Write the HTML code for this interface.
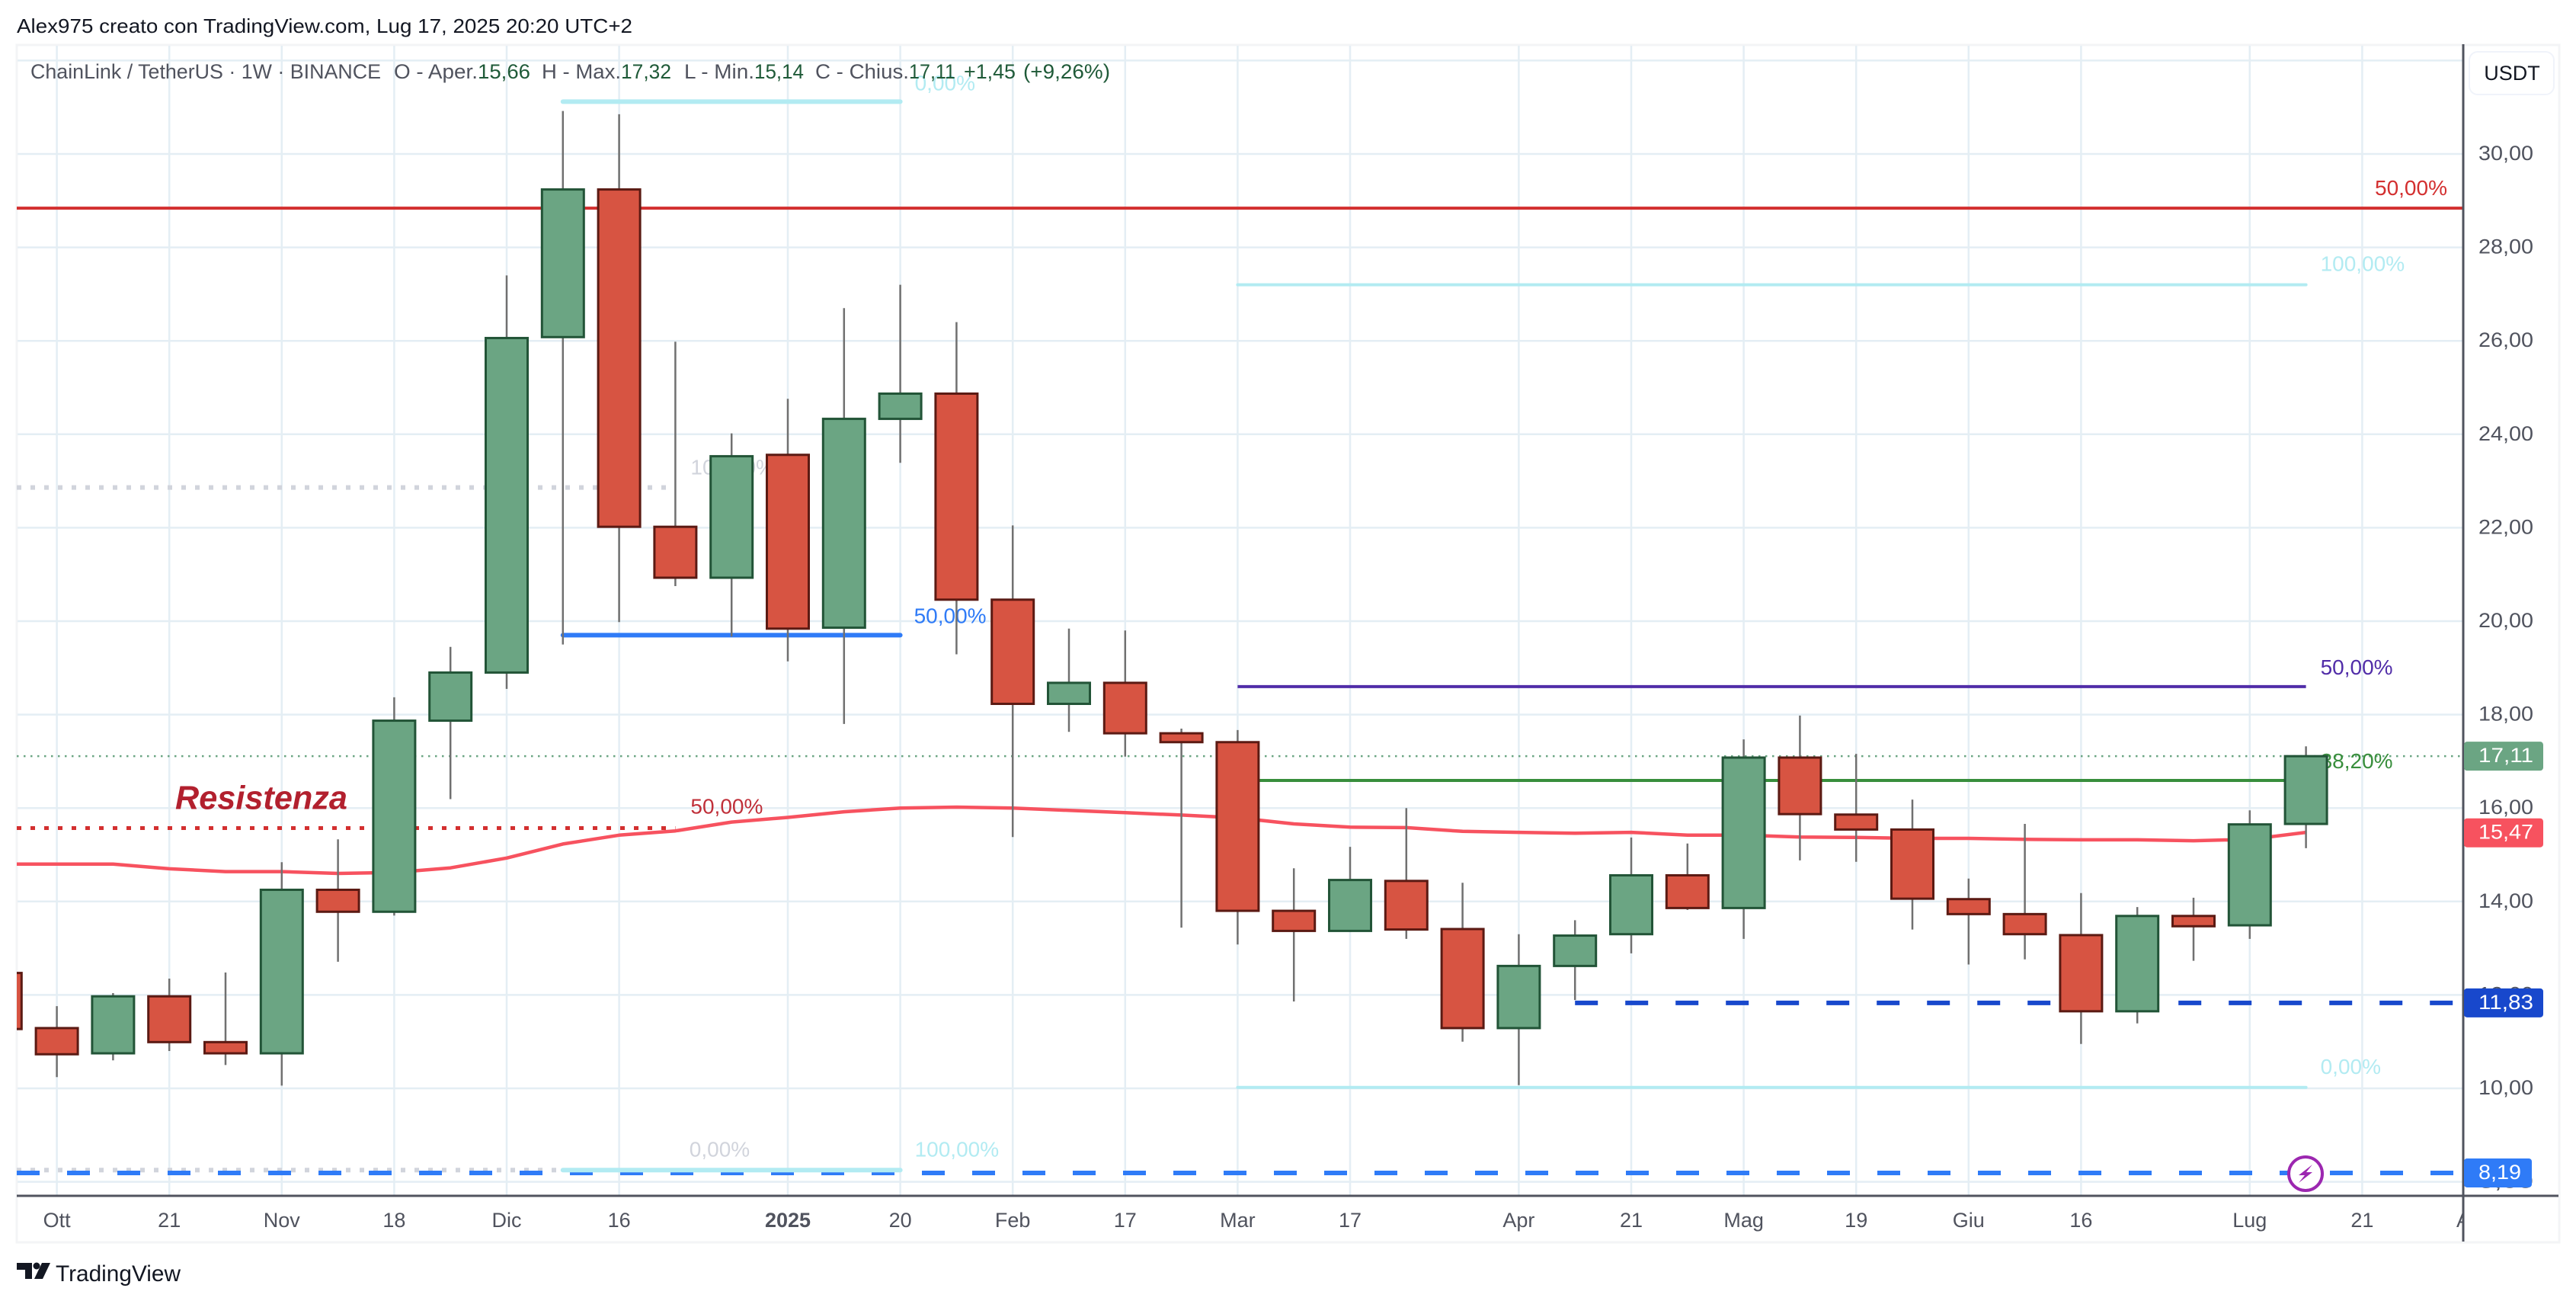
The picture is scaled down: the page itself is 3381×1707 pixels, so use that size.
<!DOCTYPE html>
<html lang="it">
<head>
<meta charset="utf-8">
<title>ChainLink / TetherUS 1W</title>
<style>
html,body{margin:0;padding:0;background:#fff;width:3381px;height:1707px;overflow:hidden}
svg{display:block;font-family:"Liberation Sans",sans-serif}
</style>
</head>
<body>
<svg id="chart" xmlns="http://www.w3.org/2000/svg" width="3381" height="1707" viewBox="0 0 3381 1707">
  <defs>
    <clipPath id="plot-clip"><rect x="22" y="58" width="3211" height="1511"></rect></clipPath>
    <clipPath id="time-clip"><rect x="22" y="1571" width="3211" height="58"></rect></clipPath>
  </defs>
  <rect x="0" y="0" width="3381" height="1707" fill="#ffffff"></rect>
  <text x="22" y="43" font-size="26" fill="#131722" textLength="808" lengthAdjust="spacingAndGlyphs">Alex975 creato con TradingView.com, Lug 17, 2025 20:20 UTC+2</text>
  <rect x="22" y="59" width="3337" height="1571" fill="none" stroke="#f3f4f6" stroke-width="3"></rect>
  <g id="grid-layer"></g>
  <g id="plot-layer" clip-path="url(#plot-clip)"></g>
  <g font-size="27" fill="#50535e">
    <text x="40" y="103" textLength="460" lengthAdjust="spacingAndGlyphs">ChainLink / TetherUS · 1W · BINANCE</text>
    <text x="517" y="103" textLength="110" lengthAdjust="spacingAndGlyphs">O - Aper.</text>
    <text x="627" y="103" fill="#1f5a38" textLength="69" lengthAdjust="spacingAndGlyphs">15,66</text>
    <text x="711" y="103" textLength="104" lengthAdjust="spacingAndGlyphs">H - Max.</text>
    <text x="815" y="103" fill="#1f5a38" textLength="66" lengthAdjust="spacingAndGlyphs">17,32</text>
    <text x="898" y="103" textLength="92" lengthAdjust="spacingAndGlyphs">L - Min.</text>
    <text x="990" y="103" fill="#1f5a38" textLength="65" lengthAdjust="spacingAndGlyphs">15,14</text>
    <text x="1070" y="103" textLength="123" lengthAdjust="spacingAndGlyphs">C - Chius.</text>
    <text x="1193" y="103" fill="#1f5a38" textLength="61" lengthAdjust="spacingAndGlyphs">17,11</text>
    <text x="1265" y="103" fill="#1f5a38" textLength="68" lengthAdjust="spacingAndGlyphs">+1,45</text>
    <text x="1343" y="103" fill="#1f5a38" textLength="114" lengthAdjust="spacingAndGlyphs">(+9,26%)</text>
  </g>
  <g id="time-layer"></g>
  <g id="price-layer"></g>
  <line x1="22" y1="1569" x2="3358" y2="1569" stroke="#50535e" stroke-width="3"></line>
  <line x1="3233" y1="58" x2="3233" y2="1629" stroke="#50535e" stroke-width="3"></line>
  <g id="tag-layer"></g>
  <g>
    <rect x="3241" y="68" width="111" height="56" rx="11" fill="#ffffff" stroke="#f0f3fa" stroke-width="2"></rect>
    <text x="3297" y="105" font-size="27" fill="#131722" text-anchor="middle">USDT</text>
  </g>
  <g>
    <circle cx="3026" cy="1540" r="22" fill="#ffffff" stroke="#9c27b0" stroke-width="4"></circle>
    <polygon points="3035,1528 3017,1542 3025,1542 3017,1552 3035,1538 3027,1538" fill="#9c27b0"></polygon>
  </g>
  <g>
    <polygon points="22,1657 42,1657 42,1678 33,1678 33,1666 22,1666" fill="#131722"></polygon>
    <circle cx="48" cy="1661" r="4.5" fill="#131722"></circle>
    <polygon points="55,1657 66,1657 56,1678 45,1678" fill="#131722"></polygon>
    <text x="73" y="1681" font-size="30" fill="#131722" textLength="164" lengthAdjust="spacingAndGlyphs">TradingView</text>
  </g>
</svg>
<script>
// ---- chart data (one entry per weekly candle, starting one week before "Ott") ----
const firstIndex = -1;
const opens  = [12.47,11.29,10.75,11.97,10.99,10.75,14.25,13.78,17.87,18.90,26.08,29.24,22.02,20.93,23.56,19.86,24.33,24.87,20.46,18.23,18.68,17.60,17.41,13.80,13.37,14.44,13.41,11.29,12.62,13.30,14.56,13.86,17.08,15.86,15.54,14.05,13.73,13.28,11.65,13.69,13.49,15.66];
const highs  = [12.90,11.76,12.04,12.35,12.48,14.84,15.33,18.37,19.45,27.40,30.92,30.85,25.98,24.02,24.76,26.70,27.20,26.40,22.05,19.84,19.80,17.70,17.67,14.71,15.17,16.00,14.40,13.30,13.60,15.37,15.24,17.47,17.98,17.16,16.18,14.49,15.66,14.18,13.88,14.08,15.95,17.32];
const lows   = [10.90,10.24,10.60,10.80,10.50,10.06,12.71,13.70,16.19,18.55,19.50,19.98,20.75,19.67,19.14,17.80,23.39,19.29,15.38,17.63,17.10,13.44,13.08,11.86,13.35,13.20,11.00,10.07,11.89,12.89,13.82,13.20,14.88,14.85,13.40,12.65,12.76,10.95,11.39,12.73,13.20,15.14];
const closes = [11.27,10.73,11.97,10.99,10.75,14.25,13.78,17.87,18.90,26.06,29.24,22.02,20.93,23.53,19.84,24.33,24.87,20.46,18.23,18.68,17.60,17.41,13.80,13.37,14.46,13.40,11.29,12.62,13.27,14.56,13.86,17.08,15.87,15.54,14.06,13.73,13.30,11.65,13.69,13.47,15.65,17.11];
const maValues = [14.80,14.80,14.80,14.70,14.64,14.64,14.60,14.62,14.72,14.93,15.23,15.42,15.51,15.70,15.80,15.92,16.00,16.02,16.00,15.95,15.90,15.85,15.79,15.66,15.59,15.58,15.50,15.48,15.46,15.48,15.42,15.42,15.38,15.37,15.35,15.35,15.33,15.32,15.32,15.30,15.33,15.48];

const priceTicks = [30,28,26,24,22,20,18,16,14,12,10,8];
const gridPrices = [32,30,28,26,24,22,20,18,16,14,12,10,8];
const timeTickIndex = [0,2,4,6,8,10,13,15,17,19,21,23,26,28,30,32,34,36,39,41,43];
const timeTickLabels = ["Ott","21","Nov","18","Dic","16","2025","20","Feb","17","Mar","17","Apr","21","Mag","19","Giu","16","Lug","21","Ago"];

const levelNames  = ["last-price-line","gray-dotted-upper","gray-dotted-lower","blue-dashed-level","navy-dashed-level","resistance-dotted","red-fib-50","cyan-fib-top","cyan-fib-bottom","blue-fib-50","cyan-range-100","cyan-range-0","purple-fib-50","green-fib-38"];
const levelPrices = [17.11,22.86,8.25,8.19,11.83,15.57,28.84,31.12,8.25,19.70,27.20,10.02,18.60,16.59];
const levelStart  = [-0.7127,-0.7127,-0.7127,-0.7127,27,-0.7127,-1.3,9,9,9,21,21,21,21];
const levelEnd    = [43,11,9,43,43,11,43,15,15,15,40,40,40,40];
const levelTexts  = ["","100,00%","0,00%","","","50,00%","50,00%","0,00%","100,00%","50,00%","100,00%","0,00%","50,00%","38,20%"];

const tagPrices = [17.11,15.47,11.83,8.19];
const tagNames  = ["last-price-tag","ma-price-tag","navy-level-tag","blue-level-tag"];

// ---- styles, separate from the data ----
const levelStyle = {
  "blue-dashed-level":{c:"#2f7bf7",w:6,d:"30 36"},
  "navy-dashed-level":{c:"#1848cc",w:6,d:"30 36"},
  "last-price-line":{c:"#6ba583",w:2.5,d:"2.5 6.5"},
  "gray-dotted-upper":{c:"#d1d4dc",w:6,d:"6 12",tc:"#d1d4dc",dx:20,dy:-17},
  "gray-dotted-lower":{c:"#d1d4dc",w:6,d:"6 12",tc:"#d1d4dc",dx:166,dy:-18},
  "resistance-dotted":{c:"#d32f2f",w:5,d:"6 12",tc:"#c0303a",dx:20,dy:-19},
  "red-fib-50":{c:"#d32f2f",w:4,tc:"#d32f2f",dx:-131,dy:-17},
  "cyan-fib-top":{c:"#b2ebf2",w:6,cap:"round",tc:"#b2ebf2",dx:19,dy:-15},
  "cyan-fib-bottom":{c:"#b2ebf2",w:6,cap:"round",tc:"#b2ebf2",dx:19,dy:-18},
  "blue-fib-50":{c:"#2f7bf7",w:6,cap:"round",tc:"#2f7bf7",dx:18,dy:-16},
  "cyan-range-100":{c:"#b2ebf2",w:4,cap:"round",tc:"#b2ebf2",dx:19,dy:-18},
  "cyan-range-0":{c:"#b2ebf2",w:4,cap:"round",tc:"#b2ebf2",dx:19,dy:-18},
  "purple-fib-50":{c:"#512da8",w:4,tc:"#512da8",dx:19,dy:-16},
  "green-fib-38":{c:"#388e3c",w:4,tc:"#388e3c",dx:19,dy:-16}
};
const tagColors = ["#6ba583","#f7525f","#1848cc","#2f7bf7"];
const tagWidths = [104,104,104,89];

// ---- axis functions ----
function xScale(i){ return 74.6 + 73.8 * i; }
function yScale(v){ return 1428 - (v - 10) * 61.3; }
const NS = "http://www.w3.org/2000/svg";
function make(tag, parent, attrs){
  const el = document.createElementNS(NS, tag);
  for (const k in attrs) el.setAttribute(k, attrs[k]);
  parent.appendChild(el);
  return el;
}
const gridLayer = document.getElementById("grid-layer");
const plotLayer = document.getElementById("plot-layer");
const timeLayer = document.getElementById("time-layer");
const priceLayer = document.getElementById("price-layer");
const tagLayer = document.getElementById("tag-layer");

// grid
gridPrices.forEach(function(p){
  const g = make("line", gridLayer, {x1:23, x2:3233, y1:yScale(p), y2:yScale(p), stroke:"#e4eef4", "stroke-width":2.5});
  
  
});
timeTickIndex.forEach(function(i){
  if (xScale(i) >= 3233) return;
  const g = make("line", gridLayer, {x1:xScale(i), x2:xScale(i), y1:60, y2:1569, stroke:"#e4eef4", "stroke-width":2.5});
  
  
});

// price + time tick labels
priceTicks.forEach(function(p){
  const t = make("text", priceLayer, {x:3253, y:yScale(p)+8, "font-size":27, fill:"#50535e", textLength:72, lengthAdjust:"spacingAndGlyphs"});
  
  
  t.textContent = p.toFixed(2).replace(".", ",");
});
const timeClipGroup = make("g", timeLayer, {"clip-path":"url(#time-clip)"});


timeTickIndex.forEach(function(i, n){
  const label = timeTickLabels[n];
  const bold = label === "2025";
  const t = make("text", timeClipGroup, {x:xScale(i), y:1610, "font-size":27, fill:"#50535e", "text-anchor":"middle", "font-weight":bold ? "bold" : "normal"});
  
  
  t.textContent = label;
});

// horizontal levels and their labels (beneath the candles)
levelNames.forEach(function(name, n){
  const s = levelStyle[name];
  const y = yScale(levelPrices[n]);
  const attrs = {x1:xScale(levelStart[n]), x2:xScale(levelEnd[n]), y1:y, y2:y, stroke:s.c, "stroke-width":s.w};
  if (s.d) attrs["stroke-dasharray"] = s.d;
  if (s.cap) attrs["stroke-linecap"] = s.cap;
  const l = make("line", plotLayer, attrs);
  
  
  if (levelTexts[n]) {
    const t = make("text", plotLayer, {x:xScale(levelEnd[n])+s.dx, y:y+s.dy, "font-size":28, fill:s.tc});
    
    
    t.textContent = levelTexts[n];
  }
});

// resistance annotation
const resistIndex = levelNames.indexOf("resistance-dotted");
const resist = make("text", plotLayer, {x:230, y:yScale(levelPrices[resistIndex])-25, "font-size":44, "font-weight":"bold", "font-style":"italic", fill:"#b2202e", textLength:226, lengthAdjust:"spacingAndGlyphs"});


resist.textContent = "Resistenza";

// moving average
const maPoints = maValues.map(function(v, k){ return xScale(k + firstIndex).toFixed(1) + "," + yScale(v).toFixed(1); }).join(" ");
const ma = make("polyline", plotLayer, {points:maPoints, fill:"none", stroke:"#f7525f", "stroke-width":4.5, "stroke-linejoin":"round"});



// candles
const candleWidth = 55;
opens.forEach(function(o, k){
  const c = closes[k];
  const x = xScale(k + firstIndex);
  const up = c >= o;
  const wick = make("line", plotLayer, {x1:x, x2:x, y1:yScale(highs[k]), y2:yScale(lows[k]), stroke:"#707070", "stroke-width":2.5});
  
  
  const top = yScale(Math.max(o, c));
  const bottom = yScale(Math.min(o, c));
  const body = make("rect", plotLayer, {x:x - candleWidth/2, y:top, width:candleWidth, height:Math.max(bottom - top, 2), fill:up ? "#6ba583" : "#d75442", stroke:up ? "#225437" : "#5b1a13", "stroke-width":3});
  
  
});

// right-hand price tags
tagPrices.forEach(function(p, n){
  const y = yScale(p);
  const r = make("rect", tagLayer, {x:3234, y:y-19, width:tagWidths[n], height:38, rx:4, fill:tagColors[n]});
  
  
  const t = make("text", tagLayer, {x:3253, y:y+8, "font-size":27, fill:"#ffffff", textLength:p < 10 ? 56 : 72, lengthAdjust:"spacingAndGlyphs"});
  
  
  t.textContent = p.toFixed(2).replace(".", ",");
});
</script>
</body>
</html>
